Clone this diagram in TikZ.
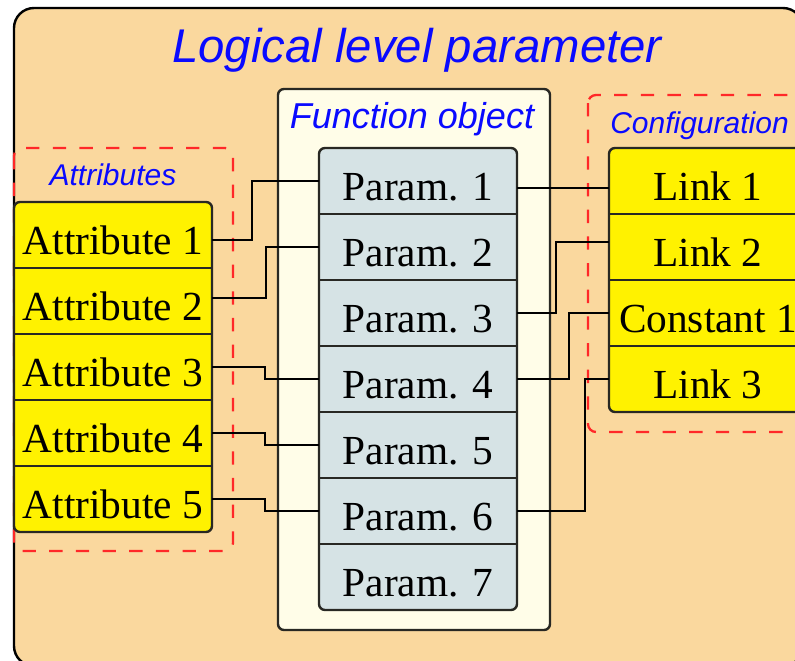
\documentclass[tikz,border=0pt]{standalone}
\usepackage{fontspec}
\setmainfont{Liberation Serif}
\setsansfont{Liberation Sans}
\definecolor{peach}{RGB}{250,216,158}
\definecolor{fobjfill}{RGB}{255,253,232}
\definecolor{parfill}{RGB}{214,227,229}
\definecolor{dred}{RGB}{255,40,40}
\definecolor{tblue}{RGB}{10,10,255}
\definecolor{bord}{RGB}{40,40,35}
\tikzset{
  grp/.style={draw=bord,line width=1.8pt,rounded corners=4.5pt},
  dgrp/.style={draw=dred,line width=1.7pt,dash pattern=on 10pt off 10pt,rounded corners=6pt},
  row/.style={draw=none,inner sep=0pt,minimum width=148.5pt,minimum height=49.5pt,
    text height=28.5pt,text depth=0pt,font=\fontsize{31pt}{31pt}\selectfont},
  divider/.style={draw=bord,line width=1.8pt},
  conn/.style={draw=black,line width=1.8pt},
  lbl/.style={text=tblue,inner sep=0pt,font=\sffamily\itshape\fontsize{22.5pt}{22.5pt}\selectfont}
}
\begin{document}
\begin{tikzpicture}[x=0.75pt,y=-0.75pt]
\useasboundingbox (0,0) rectangle (795,660);
\fill[white] (0,0) rectangle (795,660);
\clip (0,0) rectangle (795,660);
% outer box
\draw[fill=peach,draw=black,line width=1.8pt,rounded corners=15pt] (14,8) rectangle (803,666);
\node[anchor=base,text=tblue,inner sep=0pt,font=\sffamily\itshape\fontsize{35.5pt}{35.5pt}\selectfont] (title) at (417,63) {Logical level parameter};
% dashed groups
\draw[dgrp] (14,148) rectangle (233,551);
\node[lbl,anchor=base] (attrlbl) at (113,185) {Attributes};
\draw[dgrp] (588,95) rectangle (840,432);
\node[lbl,anchor=base west] (conflbl) at (610,133) {Configuration};
% function object
\draw[grp,fill=fobjfill] (278,89) rectangle (550,630);
\node[lbl,anchor=base,font=\sffamily\itshape\fontsize{27pt}{27pt}\selectfont] (fobjlbl) at (412,128) {Function object};
% columns
\draw[grp,fill=yellow] (14,202) rectangle (212,532);
\draw[grp,fill=parfill] (319,148) rectangle (517,610);
\draw[grp,fill=yellow] (609,148) rectangle (807,412);
% rows
\foreach \i/\y in {1/235,2/301,3/367,4/433,5/499}
  \node[row] (a\i) at (113,\y) {Attribute \i};
\foreach \i/\y in {1/181,2/247,3/313,4/379,5/445,6/511,7/577}
  \node[row] (p\i) at (418,\y) {Param. \i};
\node[row] (l1) at (708,181) {Link 1};
\node[row] (l2) at (708,247) {Link 2};
\node[row] (l3) at (708,313) {Constant 1};
\node[row] (l4) at (708,379) {Link 3};
% dividers
\foreach \n in {a1,a2,a3,a4,p1,p2,p3,p4,p5,p6,l1,l2,l3}
  \draw[divider] (\n.south west) -- (\n.south east);
% connectors
\draw[conn] ([yshift=-3.75pt]a1.east) -- ++(40,0) |- (p1.west);
\draw[conn] ([yshift=2.25pt]a2.east) -- ++(54,0) |- (p2.west);
\draw[conn] (a3.east) -- ++(53,0) |- (p4.west);
\draw[conn] (a4.east) -- ++(53,0) |- (p5.west);
\draw[conn] (a5.east) -- ++(53,0) |- (p6.west);
\draw[conn] ([yshift=-5.25pt]p1.east) -- ([yshift=-5.25pt]l1.west);
\draw[conn] (p3.east) -- ++(39,0) |- ([yshift=3.75pt]l2.west);
\draw[conn] (p4.east) -- ++(52,0) |- (l3.west);
\draw[conn] (p6.east) -- ++(68,0) |- (l4.west);
\end{tikzpicture}
\end{document}
